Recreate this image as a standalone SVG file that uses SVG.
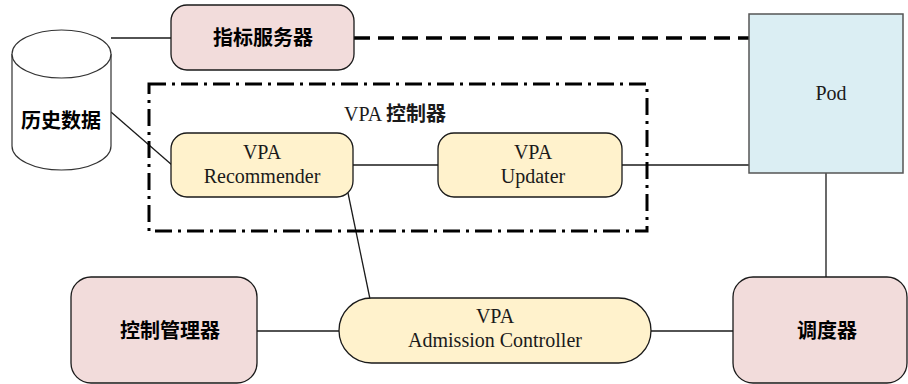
<svg xmlns="http://www.w3.org/2000/svg" width="908" height="384" viewBox="0 0 908 384">
<style>
.pink{fill:#F2DCDB;stroke:#1a1a1a;stroke-width:1.3}
.yel{fill:#FFF2CC;stroke:#1a1a1a;stroke-width:1.3}
.blue{fill:#DBEEF3;stroke:#555;stroke-width:1.5}
.cyl{fill:#fff;stroke:#333;stroke-width:1.2}
.cn{font-family:"Noto Sans CJK SC","Noto Sans",sans-serif;font-weight:bold;font-size:20px;fill:#000;text-anchor:middle}
.en{font-family:"Liberation Serif","Noto Sans CJK SC",serif;font-size:20px;fill:#1a1a1a;text-anchor:middle}
.ln{stroke:#1a1a1a;stroke-width:1.3;fill:none}
</style>
<g id="connectors">
<line class="ln" x1="111" y1="38" x2="171" y2="38"/>
<line class="ln" x1="111" y1="112" x2="172" y2="165"/>
<line x1="354" y1="38" x2="749" y2="38" stroke="#000" stroke-width="3.5" stroke-dasharray="16,8" fill="none"/>
<line class="ln" x1="353" y1="165" x2="438" y2="165"/>
<line class="ln" x1="622" y1="165" x2="749" y2="165"/>
<line class="ln" x1="826" y1="173" x2="826" y2="277" stroke="#444"/>
<line class="ln" x1="348" y1="193" x2="370" y2="299"/>
<line class="ln" x1="257" y1="331" x2="339" y2="331"/>
<line class="ln" x1="651" y1="331" x2="733" y2="331"/>
</g>
<g id="vpa-controller-group">
<rect x="149" y="84" width="498" height="147" fill="none" stroke="#000" stroke-width="3" stroke-dasharray="17,6,3,6"/>
<text x="395" y="121" class="en">VPA <tspan style="font-family:'Noto Sans CJK SC',sans-serif;font-weight:bold">控制器</tspan></text>
</g>
<g id="history-db">
<path class="cyl" d="M12,54 L12,146 A49.5,24 0 0 0 111,146 L111,54 A49.5,24 0 0 0 12,54 Z"/>
<path class="cyl" d="M12,54 A49.5,24 0 0 0 111,54" fill="none"/>
<text x="61" y="128" class="cn">历史数据</text>
</g>
<g id="metrics-server">
<rect class="pink" x="171" y="5" width="183" height="65" rx="16"/>
<text x="263" y="45" class="cn">指标服务器</text>
</g>
<g id="pod">
<rect class="blue" x="749" y="14" width="154" height="159"/>
<text x="831" y="100" class="en">Pod</text>
</g>
<g id="vpa-recommender">
<rect class="yel" x="171" y="133" width="182" height="64" rx="16"/>
<text x="262" y="159" class="en">VPA</text>
<text x="262" y="183" class="en">Recommender</text>
</g>
<g id="vpa-updater">
<rect class="yel" x="438" y="133" width="184" height="64" rx="16"/>
<text x="533" y="159" class="en">VPA</text>
<text x="533" y="183" class="en">Updater</text>
</g>
<g id="controller-manager">
<rect class="pink" x="71" y="277" width="186" height="106" rx="20"/>
<text x="170" y="338" class="cn">控制管理器</text>
</g>
<g id="vpa-admission-controller">
<rect class="yel" x="339" y="298" width="312" height="65" rx="32.5"/>
<text x="495" y="323" class="en">VPA</text>
<text x="495" y="347" class="en">Admission Controller</text>
</g>
<g id="scheduler">
<rect class="pink" x="733" y="277" width="174" height="106" rx="20"/>
<text x="827" y="338" class="cn">调度器</text>
</g>
</svg>
